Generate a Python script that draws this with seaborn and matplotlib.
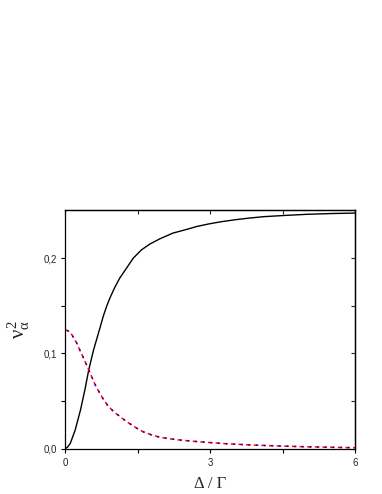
import numpy as np
import pandas as pd
import matplotlib
matplotlib.use("Agg")
import matplotlib.pyplot as plt
import seaborn as sns
from matplotlib.ticker import FuncFormatter, FixedLocator

# ---- data ----
x_solid = [0, 0.05, 0.11, 0.21, 0.32, 0.41, 0.49, 0.59, 0.71, 0.79, 0.86, 0.93, 1.03,
           1.13, 1.27, 1.41, 1.58, 1.75, 1.96, 2.23, 2.48, 2.72, 2.96, 3.2, 3.5, 3.8,
           4.1, 4.5, 5.0, 5.5, 6.0]
y_solid = [0, 0.0015, 0.0057, 0.0196, 0.0407, 0.0617, 0.0827, 0.1037, 0.1247, 0.1390,
           0.1495, 0.1585, 0.1695, 0.179, 0.1895, 0.200, 0.2087, 0.2147, 0.2203, 0.2263,
           0.2297, 0.2332, 0.2358, 0.2380, 0.2402, 0.2420, 0.2435, 0.2447, 0.2460,
           0.2468, 0.2473]
x_dash = [0, 0.07, 0.14, 0.23, 0.32, 0.41, 0.49, 0.56, 0.625, 0.71, 0.80, 0.88, 0.97,
          1.05, 1.14, 1.27, 1.35, 1.48, 1.61, 1.78, 1.96, 2.15, 2.3, 2.6, 2.92, 3.3,
          3.8, 4.43, 5.0, 5.5, 6.0]
y_dash_red = [0.125, 0.1235, 0.1197, 0.112, 0.1019, 0.092, 0.0827, 0.0745, 0.0669,
              0.059, 0.0512, 0.0455, 0.0407, 0.037, 0.0336, 0.0284, 0.0259, 0.0215,
              0.0179, 0.0146, 0.0120, 0.0105, 0.0095, 0.0080, 0.0067, 0.0053, 0.0040,
              0.0028, 0.0020, 0.0015, 0.0010]
y_dash_blue = [0.125, 0.1235, 0.1197, 0.112, 0.1019, 0.092, 0.0827, 0.0745, 0.0669,
               0.059, 0.0512, 0.0455, 0.0407, 0.037, 0.0336, 0.0284, 0.0259, 0.0215,
               0.0179, 0.0146, 0.0120, 0.0105, 0.0095, 0.0080, 0.0067, 0.0053, 0.0040,
               0.0028, 0.0020, 0.0015, 0.0010]
x_major = [0, 3, 6]
x_minor = [1.5, 4.5]
y_major = [0.0, 0.1, 0.2]
y_minor = [0.05, 0.15]

df_solid = pd.DataFrame({"x": x_solid, "y": y_solid})
df_red = pd.DataFrame({"x": x_dash, "y": y_dash_red})
df_blue = pd.DataFrame({"x": x_dash, "y": y_dash_blue})

sns.set_style("ticks")
plt.rcParams["font.family"] = ["Liberation Sans", "DejaVu Sans"]
plt.rcParams["mathtext.fontset"] = "custom"
plt.rcParams["mathtext.rm"] = "Liberation Serif"
plt.rcParams["mathtext.it"] = "Liberation Serif"
plt.rcParams["mathtext.bf"] = "Liberation Serif:bold"

fig = plt.figure(figsize=(3.82, 4.94), dpi=100)
ax = fig.add_axes([0.1702, 0.0917, 0.7604, 0.4822])

sns.lineplot(data=df_solid, x="x", y="y", ax=ax, color="black", lw=1.0,
             estimator=None, sort=False)
sns.lineplot(data=df_red, x="x", y="y", ax=ax, color="red", lw=1.1,
             estimator=None, sort=False)
sns.lineplot(data=df_blue, x="x", y="y", ax=ax, color="blue", lw=1.1,
             estimator=None, sort=False)
lines = ax.get_lines()
lines[1].set_linestyle((0, (3, 2)))
lines[2].set_linestyle((3.5, (1, 4)))

ax.set_xlim(0, 6)
ax.set_ylim(0, 0.25)

ax.xaxis.set_major_locator(FixedLocator(x_major))
ax.xaxis.set_minor_locator(FixedLocator(x_minor))
ax.yaxis.set_major_locator(FixedLocator(y_major))
ax.yaxis.set_minor_locator(FixedLocator(y_minor))
ax.xaxis.set_major_formatter(FuncFormatter(lambda v, p: f"{v:.0f}"))
ax.yaxis.set_major_formatter(FuncFormatter(lambda v, p: f"{v:.1f}".replace(".", ",")))
ax.tick_params(which="both", direction="out", length=3, width=0.8, labelsize=7,
               pad=2.5, color="black")
ax.tick_params(axis="x", which="both", pad=3.5)

# mirrored ticks (inward) on top and right
top = ax.secondary_xaxis("top")
top.xaxis.set_major_locator(FixedLocator(x_major))
top.xaxis.set_minor_locator(FixedLocator(x_minor))
top.tick_params(which="both", direction="in", length=3, width=0.8, labeltop=False)
right = ax.secondary_yaxis("right")
right.yaxis.set_major_locator(FixedLocator(y_major))
right.yaxis.set_minor_locator(FixedLocator(y_minor))
right.tick_params(which="both", direction="in", length=3, width=0.8, labelright=False)

for a in (ax, top, right):
    for s in a.spines.values():
        s.set_linewidth(0.9)
        s.set_color("black")

ax.set_xlabel("Δ / Γ", fontsize=12, labelpad=6, family=["Liberation Serif", "DejaVu Serif"])
ax.set_ylabel(r"$\nu_{\alpha}^{2}$", fontsize=15, labelpad=9)

fig.savefig("out.png", dpi=100)
